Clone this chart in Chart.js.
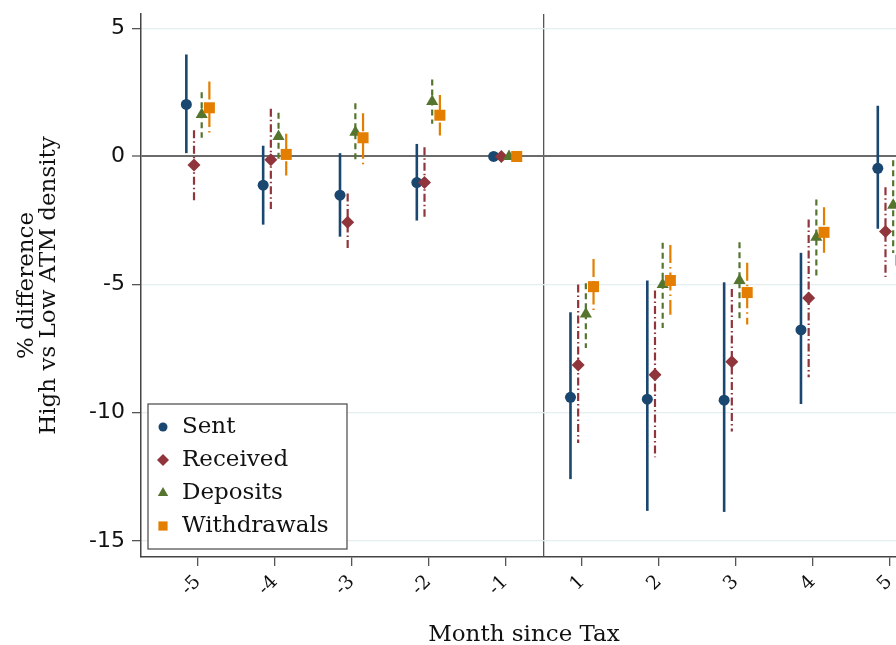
<!DOCTYPE html>
<html>
<head>
<meta charset="utf-8">
<script src="https://cdn.jsdelivr.net/npm/chart.js@4/dist/chart.umd.min.js"></script>
<style>
  html, body { margin: 0; padding: 0; background: #ffffff; overflow: hidden; }
  canvas { display: block; }
</style>
</head>
<body>
<canvas id="chart" width="920" height="645"></canvas>
<script>
// Months relative to the tax; the event month itself is left out.
const months = [-5, -4, -3, -2, -1, 1, 2, 3, 4, 5];
const xTickLabels = ['-5', '-4', '-3', '-2', '-1', '', '1', '2', '3', '4', '5'];
const yTickValues = [-15, -10, -5, 0, 5];
const seriesNames = ['Sent', 'Received', 'Deposits', 'Withdrawals'];

// Point estimates with lower / upper confidence bounds (% difference)
const sentEst      = [2.03, -1.12, -1.51, -1.02, 0, -9.40, -9.47, -9.51, -6.77, -0.46];
const sentLow      = [0.13, -2.66, -3.13, -2.50, 0, -12.59, -13.83, -13.87, -9.66, -2.82];
const sentHigh     = [3.98, 0.42, 0.13, 0.49, 0, -6.08, -4.84, -4.91, -3.76, 1.98];

const receivedEst  = [-0.33, -0.13, -2.57, -1.02, 0, -8.14, -8.52, -8.01, -5.52, -2.93];
const receivedLow  = [-1.72, -2.05, -3.65, -2.35, 0, -11.18, -11.74, -10.73, -8.62, -4.70];
const receivedHigh = [1.02, 1.86, -1.44, 0.36, 0, -5.00, -5.23, -5.17, -2.46, -1.20];

const depositsEst  = [1.64, 0.78, 0.95, 2.15, 0, -6.15, -5.00, -4.84, -3.15, -1.90];
const depositsLow  = [0.73, -0.12, -0.22, 1.28, 0, -7.47, -6.69, -6.34, -4.74, -3.77];
const depositsHigh = [2.51, 1.71, 2.08, 3.00, 0, -4.95, -3.37, -3.35, -1.68, -0.15];

const withdrawEst  = [1.90, 0.08, 0.73, 1.61, 0, -5.08, -4.84, -5.31, -2.96, -4.05];
const withdrawLow  = [0.91, -0.74, -0.31, 0.82, 0, -6.12, -6.18, -6.56, -3.91, -5.10];
const withdrawHigh = [2.93, 0.89, 1.69, 2.40, 0, -4.00, -3.45, -4.15, -1.98, -2.95];

// Month -> axis position: months sit one unit apart, the gap line sits at 0
const monthPos = m => m - 0.5 * Math.sign(m);
const xTickPositions = [...months.filter(m => m < 0).map(monthPos), 0, ...months.filter(m => m > 0).map(monthPos)];

const SERIF = "'DejaVu Serif', 'Liberation Serif', serif";
const SANS = "'DejaVu Sans', 'Liberation Sans', sans-serif";

function makeSeries(est, low, high, shift) {
  return months.map((m, i) => ({ x: monthPos(m) + shift, y: est[i], lo: low[i], hi: high[i] }));
}

const styles = [
  { color: '#1a476f', point: 'circle',   radius: 5.5, dash: [],              width: 2.6, shift: -0.15, order: 4 },
  { color: '#90353b', point: 'rectRot',  radius: 6.5, dash: [8, 3, 1.5, 3],  width: 2.2, shift: -0.05, order: 3 },
  { color: '#55752f', point: 'triangle', radius: 7,   dash: [6, 4],          width: 2.2, shift: 0.05,  order: 2 },
  { color: '#e37e00', point: 'rect',     radius: 7.8, dash: [18, 4, 1.5, 4], width: 2.2, shift: 0.15,  order: 1 }
];
const seriesData = [
  [sentEst, sentLow, sentHigh],
  [receivedEst, receivedLow, receivedHigh],
  [depositsEst, depositsLow, depositsHigh],
  [withdrawEst, withdrawLow, withdrawHigh]
];

const datasets = seriesNames.map((name, k) => {
  const s = styles[k];
  return {
    label: name,
    data: makeSeries(seriesData[k][0], seriesData[k][1], seriesData[k][2], s.shift),
    showLine: false,
    pointStyle: s.point,
    pointRadius: s.radius,
    pointHoverRadius: s.radius,
    pointBorderWidth: 0,
    pointBackgroundColor: s.color,
    borderColor: s.color,
    backgroundColor: s.color,
    order: s.order,
    barColor: s.color,
    barDash: s.dash,
    barWidth: s.width
  };
});

// Vertical confidence-interval spikes under each marker
const errorBars = {
  id: 'errorBars',
  beforeDatasetsDraw(chart) {
    const { ctx, scales: { x, y } } = chart;
    chart.data.datasets.forEach((ds, i) => {
      if (!chart.isDatasetVisible(i)) return;
      ctx.save();
      ctx.strokeStyle = ds.barColor;
      ctx.lineWidth = ds.barWidth;
      ctx.setLineDash(ds.barDash);
      ctx.lineCap = 'butt';
      ds.data.forEach(p => {
        if (p.lo === p.hi) return;
        const px = x.getPixelForValue(p.x);
        ctx.beginPath();
        ctx.moveTo(px, y.getPixelForValue(p.hi));
        ctx.lineTo(px, y.getPixelForValue(p.lo));
        ctx.stroke();
      });
      ctx.restore();
    });
  }
};

function drawMarker(ctx, style, cx, cy, r, color) {
  ctx.fillStyle = color;
  ctx.beginPath();
  if (style === 'circle') {
    ctx.arc(cx, cy, r, 0, Math.PI * 2);
  } else if (style === 'rectRot') {
    ctx.moveTo(cx, cy - r); ctx.lineTo(cx + r, cy); ctx.lineTo(cx, cy + r); ctx.lineTo(cx - r, cy);
  } else if (style === 'triangle') {
    ctx.moveTo(cx, cy - r); ctx.lineTo(cx + r * 0.866, cy + r / 2); ctx.lineTo(cx - r * 0.866, cy + r / 2);
  } else {
    const h = r * Math.SQRT1_2;
    ctx.rect(cx - h, cy - h, 2 * h, 2 * h);
  }
  ctx.closePath();
  ctx.fill();
}

// Boxed legend in the lower-left corner of the plot
const boxLegend = {
  id: 'boxLegend',
  afterDraw(chart) {
    const { ctx, chartArea } = chart;
    const left = chartArea.left + 7, bottom = chartArea.bottom - 8;
    const w = 199, h = 145, rowGap = 33;
    const top = bottom - h;
    ctx.save();
    ctx.fillStyle = '#ffffff';
    ctx.fillRect(left, top, w, h);
    ctx.strokeStyle = '#555555';
    ctx.lineWidth = 1.3;
    ctx.strokeRect(left, top, w, h);
    const sizes = [4.5, 6, 6, 6.5];
    ctx.font = '23px ' + SERIF;
    ctx.textBaseline = 'middle';
    ctx.textAlign = 'left';
    chart.data.datasets.forEach((ds, i) => {
      const cy = top + 23 + i * rowGap;
      drawMarker(ctx, ds.pointStyle, left + 15, cy, sizes[i], ds.pointBackgroundColor);
      ctx.fillStyle = '#111111';
      ctx.fillText(ds.label, left + 34, cy);
    });
    ctx.restore();
  }
};

new Chart(document.getElementById('chart'), {
  type: 'scatter',
  data: { datasets },
  plugins: [errorBars, boxLegend],
  options: {
    responsive: false,
    animation: false,
    events: [],
    layout: { padding: { left: 0, right: 13, top: 14, bottom: 0 } },
    plugins: { legend: { display: false }, tooltip: { enabled: false } },
    scales: {
      x: {
        type: 'linear',
        min: -5.24,
        max: 4.73,
        afterBuildTicks(axis) { axis.ticks = xTickPositions.map(v => ({ value: v })); },
        afterFit(axis) { axis.height = 88; axis.paddingLeft = 0; axis.paddingRight = 0; },
        ticks: {
          autoSkip: false,
          minRotation: 45,
          maxRotation: 45,
          padding: 5,
          color: '#111111',
          font: { family: SERIF, size: 19 },
          callback: (value, index) => xTickLabels[index]
        },
        grid: {
          drawOnChartArea: true,
          drawTicks: true,
          tickLength: 9,
          color: c => (c.tick && c.tick.value === 0 ? '#555555' : 'rgba(0,0,0,0)'),
          tickColor: c => (c.tick && c.tick.value === 0 ? 'rgba(0,0,0,0)' : '#555555'),
          lineWidth: 1.3,
          tickWidth: 1.3
        },
        border: { display: true, color: '#444444', width: 1.5 },
        title: {
          display: true,
          text: 'Month since Tax',
          color: '#111111',
          font: { family: SERIF, size: 23, lineHeight: 0.87 },
          padding: 0
        }
      },
      y: {
        type: 'linear',
        min: -15.63,
        max: 5.56,
        afterBuildTicks(axis) { axis.ticks = yTickValues.map(v => ({ value: v })); },
        afterFit(axis) { axis.width = 141; axis.paddingTop = 0; axis.paddingBottom = 0; },
        ticks: {
          padding: 7,
          color: '#111111',
          font: { family: SANS, size: 22 },
          callback: v => String(v)
        },
        grid: {
          drawTicks: true,
          tickLength: 9,
          color: c => (c.tick && c.tick.value === 0 ? '#6a6a6a' : '#e4eef0'),
          lineWidth: c => (c.tick && c.tick.value === 0 ? 2 : 1.3),
          tickColor: '#555555',
          tickWidth: 1.3
        },
        border: { display: true, color: '#444444', width: 1.5 },
        title: {
          display: true,
          text: ['% difference', 'High vs Low ATM density'],
          color: '#111111',
          font: { family: SERIF, size: 23, lineHeight: 0.96 },
          padding: { top: 16, bottom: 0 }
        }
      }
    }
  }
});
</script>
</body>
</html>
